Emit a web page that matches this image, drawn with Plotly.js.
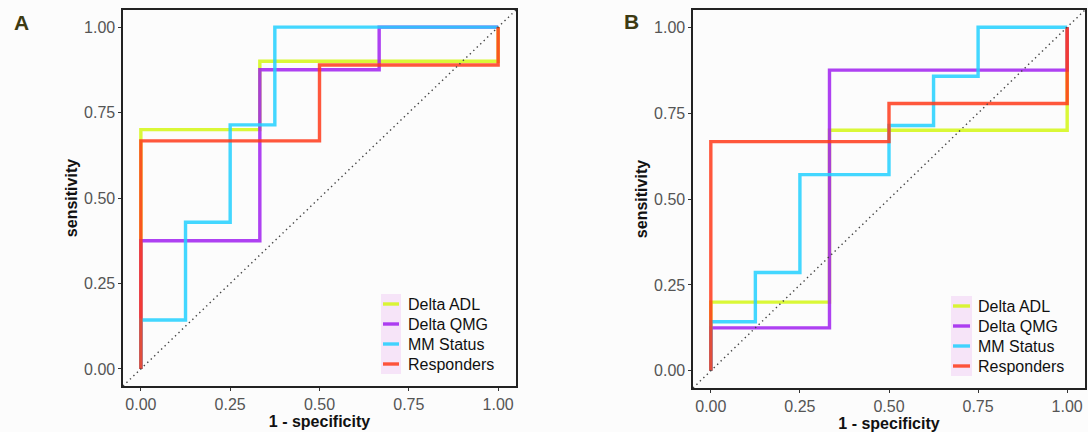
<!DOCTYPE html>
<html>
<head>
<meta charset="utf-8">
<script src="https://cdn.plot.ly/plotly-3.0.1.min.js"></script>
<style>html,body{margin:0;padding:0;background:#fcfcfc;}#chart{width:1088px;height:432px;}</style>
</head>
<body>
<div id="chart"></div>
<script>
// ---- data: ROC coordinates (1 - specificity, sensitivity) ----
const seriesNames = ["Delta ADL", "Delta QMG", "MM Status", "Responders"];
const seriesColors = ["#d4f714", "#a020f0", "#22d0ff", "#ff3a1a"];

// Panel A
const fprA_ADL = [0, 0, 0.333, 0.333, 1, 1];
const tprA_ADL = [0, 0.7, 0.7, 0.9, 0.9, 1];
const fprA_QMG = [0, 0, 0.333, 0.333, 0.667, 0.667, 1];
const tprA_QMG = [0, 0.375, 0.375, 0.875, 0.875, 1, 1];
const fprA_MM = [0, 0, 0.125, 0.125, 0.25, 0.25, 0.375, 0.375, 1];
const tprA_MM = [0, 0.143, 0.143, 0.429, 0.429, 0.714, 0.714, 1, 1];
const fprA_Resp = [0, 0, 0.5, 0.5, 1, 1];
const tprA_Resp = [0, 0.667, 0.667, 0.889, 0.889, 1];

// Panel B
const fprB_ADL = [0, 0, 0.333, 0.333, 1, 1];
const tprB_ADL = [0, 0.2, 0.2, 0.7, 0.7, 1];
const fprB_QMG = [0, 0, 0.333, 0.333, 1, 1];
const tprB_QMG = [0, 0.125, 0.125, 0.875, 0.875, 1];
const fprB_MM = [0, 0, 0.125, 0.125, 0.25, 0.25, 0.5, 0.5, 0.625, 0.625, 0.75, 0.75, 1];
const tprB_MM = [0, 0.143, 0.143, 0.286, 0.286, 0.571, 0.571, 0.714, 0.714, 0.857, 0.857, 1, 1];
const fprB_Resp = [0, 0, 0.5, 0.5, 1, 1];
const tprB_Resp = [0, 0.667, 0.667, 0.778, 0.778, 1];

// reference diagonal
const diagX = [-0.05, 1.05];
const diagY = [-0.05, 1.05];

const tickVals = [0, 0.25, 0.5, 0.75, 1];
const tickText = ["0.00", "0.25", "0.50", "0.75", "1.00"];

const FONT = "Liberation Sans, Arial, Helvetica, sans-serif";

const panelA = [[fprA_ADL, tprA_ADL], [fprA_QMG, tprA_QMG], [fprA_MM, tprA_MM], [fprA_Resp, tprA_Resp]];
const panelB = [[fprB_ADL, tprB_ADL], [fprB_QMG, tprB_QMG], [fprB_MM, tprB_MM], [fprB_Resp, tprB_Resp]];

const traces = [];
function addPanel(panel, xa, ya) {
  panel.forEach((d, i) => {
    traces.push({
      type: "scatter", mode: "lines", x: d[0], y: d[1],
      name: seriesNames[i], xaxis: xa, yaxis: ya, showlegend: false,
      line: {color: seriesColors[i], width: 3.4},
      opacity: 0.85, hoverinfo: "skip"
    });
  });
  traces.push({
    type: "scatter", mode: "lines", x: diagX, y: diagY, xaxis: xa, yaxis: ya,
    showlegend: false, line: {color: "#444444", width: 1.4, dash: "1.4px,3.4px"}, hoverinfo: "skip"
  });
}
addPanel(panelA, "x", "y");
addPanel(panelB, "x2", "y2");

function xAxis(domain, anchor) {
  return {
    domain: domain, anchor: anchor, range: [-0.05, 1.05],
    tickvals: tickVals, ticktext: tickText,
    showgrid: false, zeroline: false, showline: true, mirror: true,
    linecolor: "#222222", linewidth: 1.6, ticks: "outside", ticklen: 3, tickwidth: 1, tickcolor: "#333333",
    tickfont: {family: FONT, size: 16, color: "#555555"},
    title: {text: "<b>1 - specificity</b>", font: {family: FONT, size: 16, color: "#111111"}, standoff: 4},
    automargin: false, fixedrange: true
  };
}
function yAxis(domain, anchor) {
  return {
    domain: domain, anchor: anchor, range: [-0.05, 1.05],
    tickvals: tickVals, ticktext: tickText,
    showgrid: false, zeroline: false, showline: true, mirror: true,
    linecolor: "#222222", linewidth: 1.6, ticks: "outside", ticklen: 3, tickwidth: 1, tickcolor: "#333333",
    tickfont: {family: FONT, size: 16, color: "#555555"},
    title: {text: "<b>sensitivity</b>", font: {family: FONT, size: 16, color: "#111111"}, standoff: 2},
    automargin: false, fixedrange: true
  };
}

const W = 1088, H = 432;
const px = v => v / W;
const py = v => 1 - v / H;

// manual ggplot-style legends (key box + key lines + labels)
const shapes = [];
const annotations = [];
function addLegend(keyLeft, keyRight, textX, rowYs) {
  shapes.push({type: "rect", xref: "paper", yref: "paper",
    x0: px(keyLeft), x1: px(keyRight), y0: py(rowYs[rowYs.length - 1] + 10), y1: py(rowYs[0] - 10),
    fillcolor: "#f6e4f8", line: {width: 0}, layer: "below"});
  seriesNames.forEach((nm, i) => {
    shapes.push({type: "line", xref: "paper", yref: "paper",
      x0: px(keyLeft + 2), x1: px(keyRight - 2), y0: py(rowYs[i]), y1: py(rowYs[i]),
      line: {color: seriesColors[i], width: 3.4}, opacity: 0.85, layer: "above"});
    annotations.push({text: nm, xref: "paper", yref: "paper", x: px(textX), y: py(rowYs[i]),
      xanchor: "left", yanchor: "middle", showarrow: false,
      font: {family: FONT, size: 16, color: "#111111"}});
  });
}
addLegend(381, 401, 406, [304, 324, 344, 364]);
addLegend(951, 972, 976, [306, 326, 346, 366]);

annotations.push(
  {text: "<b>A</b>", xref: "paper", yref: "paper", x: px(21), y: py(22), xanchor: "center", yanchor: "middle",
   showarrow: false, font: {family: FONT, size: 21, color: "#3d3a12"}},
  {text: "<b>B</b>", xref: "paper", yref: "paper", x: px(631), y: py(21), xanchor: "center", yanchor: "middle",
   showarrow: false, font: {family: FONT, size: 21, color: "#3d3a12"}}
);

const layout = {
  width: W, height: H,
  margin: {l: 0, r: 0, t: 0, b: 0},
  paper_bgcolor: "#fcfcfc", plot_bgcolor: "rgba(0,0,0,0)",
  showlegend: false,
  xaxis: xAxis([px(123), px(516)], "y"),
  yaxis: yAxis([py(386), py(10)], "x"),
  xaxis2: xAxis([px(693), px(1085)], "y2"),
  yaxis2: yAxis([py(388), py(10)], "x2"),
  shapes: shapes,
  annotations: annotations
};

Plotly.newPlot("chart", traces, layout, {staticPlot: true, displayModeBar: false});
</script>
</body>
</html>
